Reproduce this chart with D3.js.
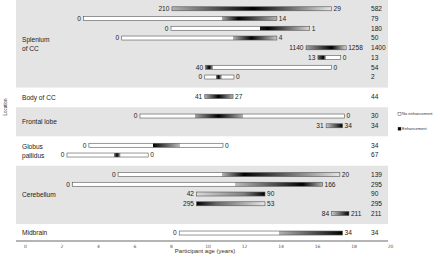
<!DOCTYPE html>
<html>
<head>
<meta charset="utf-8">
<script src="https://cdn.jsdelivr.net/npm/d3@7"></script>
<style>
  body { margin: 0; background: #fff; }
  svg { display: block; font-family: "Liberation Sans", Arial, sans-serif; }
  .lbl { font-size: 6.6px; fill: #222; }
  .grp { font-size: 6.6px; fill: #222; }
</style>
</head>
<body>
<svg id="chart" width="440" height="257"></svg>
<script>
// Locations (each label may wrap on two lines)
const groupLabels = [['Splenium', 'of CC'], ['Body of CC'], ['Frontal lobe'], ['Globus', 'pallidus'], ['Cerebellum'], ['Midbrain']];
// Which location each participant row belongs to
const rowGroup = [0, 0, 0, 0, 0, 0, 0, 0, 1, 2, 2, 3, 3, 4, 4, 4, 4, 4, 5];
// Age at first and last scan (years)
const startAge = [8.05, 3.2, 8.0, 5.3, 15.4, 16.05, 9.9, 9.85, 9.85, 6.3, 16.5, 3.5, 2.3, 5.1, 2.6, 9.4, 9.4, 16.8, 8.45];
const endAge = [16.8, 13.8, 15.6, 13.8, 17.6, 17.3, 16.8, 11.45, 11.4, 17.5, 17.4, 10.85, 6.75, 17.25, 16.3, 13.15, 13.15, 17.75, 17.4];
// Values printed at the start and end of each bar
const startValue = ['210', '0', '0', '0', '1140', '13', '40', '0', '41', '0', '31', '0', '0', '0', '0', '42', '295', '84', '0'];
const endValue = ['29', '14', '1', '4', '1258', '0', '0', '0', '27', '0', '34', '0', '0', '20', '166', '90', '53', '211', '34'];
// Right-hand column
const totals = [582, 79, 180, 50, 1400, 13, 54, 2, 44, 30, 34, 34, 67, 139, 295, 90, 295, 211, 34];
// Enhancement along each bar: [age, intensity 0 = none .. 1 = full]
const profiles = [
  [[8.05, 0.3], [12.5, 1], [16.8, 0.1]],
  [[3.2, 0], [10.8, 0], [10.8, 0.35], [11.7, 1], [13.8, 0.3]],
  [[8, 0], [12.9, 0], [12.9, 0.9], [13.3, 1], [15.6, 0.15]],
  [[5.3, 0], [11.4, 0], [11.4, 0.3], [12.4, 1], [13.8, 0.2]],
  [[15.4, 0.35], [16.8, 1], [17.6, 0.15]],
  [[16.05, 0.6], [16.35, 1], [16.5, 0.2], [16.5, 0], [17.3, 0]],
  [[9.9, 0.6], [10.1, 1], [10.3, 0.3], [10.3, 0], [16.8, 0]],
  [[9.85, 0], [10.45, 0], [10.45, 0.4], [10.6, 1], [10.75, 0.4], [10.8, 0], [11.45, 0]],
  [[9.85, 0.3], [10.6, 1], [11.4, 0.3]],
  [[6.3, 0], [9.3, 0], [9.3, 0.35], [10.6, 1], [11.95, 0.3], [11.95, 0], [17.5, 0]],
  [[16.5, 0.2], [17.4, 1]],
  [[3.5, 0], [7.0, 0], [7.0, 1], [8.5, 0.25], [8.5, 0], [10.85, 0]],
  [[2.3, 0], [4.85, 0], [4.85, 0.4], [5.05, 1], [5.2, 0.4], [5.25, 0], [6.75, 0]],
  [[5.1, 0], [10.8, 0], [10.8, 0.3], [12, 1], [17.25, 0.1]],
  [[2.6, 0], [11.5, 0], [11.5, 0.25], [15.2, 1], [16.3, 0.3]],
  [[9.4, 0.15], [12, 0.5], [13.15, 1]],
  [[9.4, 1], [10.5, 0.6], [13.15, 0.1]],
  [[16.8, 0.2], [17.75, 1]],
  [[8.45, 0], [13.9, 0], [13.9, 0.3], [17.4, 1]]
];
const xTickValues = [0, 2, 4, 6, 8, 10, 12, 14, 16, 18, 20];
const legendItems = ['No enhancement', 'Enhancement'];

const svg = d3.select('#chart');
const x = d3.scaleLinear().domain([0, 20]).range([25, 390]);
const shade = d3.scaleLinear().domain([0, 1]).range(['#ffffff', '#000000']);

// Vertical layout: each location gets (rows + 1) units
const unit = 9.75;
const axisY = 241;
const counts = groupLabels.map((g, i) => rowGroup.filter(r => r === i).length);
const groupTop = [];
let acc = 0;
counts.forEach((c, i) => { groupTop.push(acc); acc += (c + 1) * unit; });
const groupBottom = groupTop.map((t, i) => Math.min(t + (counts[i] + 1) * unit, axisY));

const rowY = [];
const seen = counts.map(() => 0);
rowGroup.forEach(g => { rowY.push(groupTop[g] + (seen[g] + 0.9) * unit); seen[g]++; });

// Background bands
svg.append('g').selectAll('rect').data(groupLabels)
  .enter().append('rect')
    .attr('x', 16).attr('width', 372)
    .attr('y', (d, i) => groupTop[i])
    .attr('height', (d, i) => groupBottom[i] - groupTop[i])
    .attr('fill', (d, i) => i % 2 === 0 ? '#e4e4e4' : '#ffffff');

// Location labels
svg.append('g').selectAll('text').data(groupLabels)
  .enter().append('text')
    .attr('class', 'grp')
    .attr('x', 22)
    .attr('y', (d, i) => (groupTop[i] + groupBottom[i]) / 2 - (d.length - 1) * 4.5 + 2.3)
    .each(function (d) {
      d3.select(this).selectAll('tspan').data(d)
        .enter().append('tspan')
          .attr('x', 22)
          .attr('dy', (s, j) => j === 0 ? 0 : 9)
          .text(s => s);
    });

// Gradients
const defs = svg.append('defs');
profiles.forEach((p, i) => {
  const grad = defs.append('linearGradient').attr('id', 'g' + i);
  grad.selectAll('stop').data(p)
    .enter().append('stop')
      .attr('offset', d => (d[0] - startAge[i]) / (endAge[i] - startAge[i]))
      .attr('stop-color', d => shade(d[1]));
});

// Bars
const rows = d3.range(rowGroup.length);
const barH = 4;
svg.append('g').selectAll('rect').data(rows)
  .enter().append('rect')
    .attr('x', i => x(startAge[i]))
    .attr('y', i => rowY[i] - barH / 2)
    .attr('width', i => x(endAge[i]) - x(startAge[i]))
    .attr('height', barH)
    .attr('fill', i => 'url(#g' + i + ')')
    .attr('stroke', '#555')
    .attr('stroke-width', 0.6);

svg.append('g').selectAll('text').data(rows)
  .enter().append('text')
    .attr('class', 'lbl')
    .attr('x', i => x(startAge[i]) - 2.5)
    .attr('y', i => rowY[i] + 2.4)
    .attr('text-anchor', 'end')
    .text(i => startValue[i]);

svg.append('g').selectAll('text').data(rows)
  .enter().append('text')
    .attr('class', 'lbl')
    .attr('x', i => x(endAge[i]) + 2)
    .attr('y', i => rowY[i] + 2.4)
    .text(i => endValue[i]);

svg.append('g').selectAll('text').data(rows)
  .enter().append('text')
    .attr('class', 'lbl')
    .attr('x', 371)
    .attr('y', i => rowY[i] + 2.4)
    .text(i => totals[i]);

// Axis
const axis = d3.axisBottom(x).tickValues(xTickValues).tickSize(0).tickPadding(3.5);
const axisG = svg.append('g').attr('transform', `translate(0,${axisY})`).call(axis);
axisG.select('.domain').remove();
axisG.selectAll('text').attr('font-size', 4.5).attr('fill', '#555').attr('font-family', 'DejaVu Sans, sans-serif');
svg.append('line')
  .attr('x1', 16).attr('x2', 388)
  .attr('y1', axisY).attr('y2', axisY)
  .attr('stroke', '#444').attr('stroke-width', 0.8);

svg.append('text')
  .attr('x', 205).attr('y', 253)
  .attr('text-anchor', 'middle')
  .attr('font-size', 6).attr('fill', '#333')
  .text('Participant age (years)');

svg.append('text')
  .attr('transform', 'translate(6.5,107) rotate(-90)')
  .attr('text-anchor', 'middle')
  .attr('font-size', 4.5).attr('fill', '#333')
  .text('Location');

// Legend
const legend = svg.append('g').selectAll('g').data(legendItems)
  .enter().append('g')
    .attr('transform', (d, i) => `translate(398,${114 + i * 15})`);
legend.append('rect')
  .attr('x', 0).attr('y', -1.8).attr('width', 3).attr('height', 3)
  .attr('fill', (d, i) => i === 0 ? '#fff' : '#000')
  .attr('stroke', '#333').attr('stroke-width', 0.4);
legend.append('text')
  .attr('x', 4).attr('y', 1.3)
  .attr('font-size', 4).attr('fill', '#333')
  .text(d => d);
</script>
</body>
</html>
